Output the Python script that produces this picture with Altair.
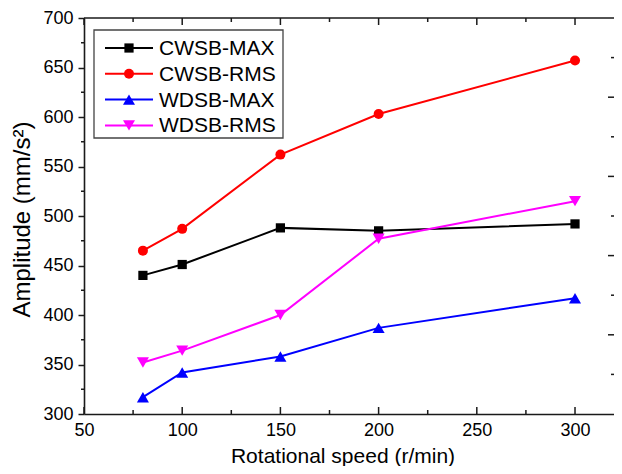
import altair as alt
import pandas as pd

# ---- data ----
speed = [80, 100, 150, 200, 300]
series_names = ["CWSB-MAX", "CWSB-RMS", "WDSB-MAX", "WDSB-RMS"]
cwsb_max = [440, 451, 488, 485, 492]
cwsb_rms = [465, 487, 562, 603, 657]
wdsb_max = [317, 342, 358, 387, 417]
wdsb_rms = [352, 364, 400, 477, 515]

x_major = [50, 100, 150, 200, 250, 300]
x_minor = [75, 125, 175, 225, 275]
y_major = [300, 350, 400, 450, 500, 550, 600, 650, 700]
y_minor = [325, 375, 425, 475, 525, 575, 625, 675]
right_major = [380, 460, 540, 620]
right_minor = [340, 420, 500, 580, 660]

colors = ["#000000", "#ff0000", "#0000ff", "#ff00ff"]
shapes = ["square", "circle", "triangle-up", "triangle-down"]
marker_sizes = [85, 100, 145, 145]

values = [cwsb_max, cwsb_rms, wdsb_max, wdsb_rms]
rows = []
for name, vals in zip(series_names, values):
    for s, v in zip(speed, vals):
        rows.append({"speed": s, "amp": v, "series": name})
df = pd.DataFrame(rows)

W, H = 530, 396
FONT = "Liberation Sans"
INK = "#1a1a1a"

xs = alt.Scale(domain=[50, 319.85], nice=False, zero=False)
ys = alt.Scale(domain=[300, 700], nice=False, zero=False)
cscale = alt.Scale(domain=series_names, range=colors)

x_axis = alt.Axis(
    values=x_major, ticks=False, grid=False, labelFlush=False,
    domainColor=INK, domainWidth=1.6,
    labelFont=FONT, labelFontSize=18, labelColor="black", labelPadding=7,
    title="Rotational speed (r/min)", titleFont=FONT, titleFontSize=21,
    titleFontWeight="normal", titleColor="black",
    titleX=258.5, titleY=48, titleAlign="center", titleBaseline="alphabetic",
)
y_axis = alt.Axis(
    values=y_major, grid=False, labelFlush=False,
    tickSize=6, tickWidth=1.5, tickColor=INK,
    domainColor=INK, domainWidth=1.6,
    labelFont=FONT, labelFontSize=18, labelColor="black", labelPadding=5,
    title="Amplitude (mm/s²)", titleFont=FONT, titleFontSize=24,
    titleFontWeight="normal", titleColor="black",
    titleX=-62, titleY=201, titleAlign="center", titleBaseline="middle",
)

def X(field):
    return alt.X(field, scale=xs, axis=x_axis)

def Y(field):
    return alt.Y(field, scale=ys, axis=y_axis)

base = alt.Chart(df)

lines = base.mark_line(strokeWidth=2).encode(
    x=X("speed:Q"), y=Y("amp:Q"),
    color=alt.Color("series:N", scale=cscale, legend=None),
)

point_layers = [
    base.transform_filter(alt.datum.series == name)
    .mark_point(filled=True, size=msz, opacity=1, shape=shp)
    .encode(
        x=X("speed:Q"), y=Y("amp:Q"),
        color=alt.Color("series:N", scale=cscale, legend=None),
    )
    for name, shp, msz in zip(series_names, shapes, marker_sizes)
]

def vtick(vals, y0, y1):
    return alt.Chart(pd.DataFrame({"v": vals})).mark_rule(color=INK, strokeWidth=1.5).encode(
        x=X("v:Q"), y=alt.value(y0), y2=alt.value(y1))

def htick(vals, x0, x1):
    return alt.Chart(pd.DataFrame({"v": vals})).mark_rule(color=INK, strokeWidth=1.5).encode(
        y=Y("v:Q"), x=alt.value(x0), x2=alt.value(x1))

ticks = [
    vtick(x_major, H, H - 7), vtick(x_minor, H, H - 4),
    vtick(x_major, 0, 7), vtick(x_minor, 0, 4),
    htick(y_minor, -3, 0),
    htick(right_major, W, W - 6), htick(right_minor, W, W - 3),
]
top_line = alt.Chart(pd.DataFrame({"v": [0]})).mark_rule(color=INK, strokeWidth=1.6).encode(
    x=alt.value(0), x2=alt.value(W), y=alt.value(0))

# ---- legend (box, line sample, marker, label for each series) ----
LX0, LX1, LY0, LY1 = 10, 199, 12, 120   # box, in plot pixels
ROW0, ROWSTEP = 30, 25.8
legend_layers = [
    alt.Chart(pd.DataFrame({"series": [series_names[0]]})).mark_rect(
        fill="white", stroke="#444444", strokeWidth=1.3
    ).encode(x=alt.value(LX0), x2=alt.value(LX1), y=alt.value(LY0), y2=alt.value(LY1))
]
for i, (name, col, shp, msz) in enumerate(zip(series_names, colors, shapes, marker_sizes)):
    one = alt.Chart(pd.DataFrame({"series": [name]}))
    ry = ROW0 + ROWSTEP * i
    legend_layers.append(
        one.mark_rule(color=col, strokeWidth=2).encode(
            x=alt.value(21), x2=alt.value(69), y=alt.value(ry))
    )
    legend_layers.append(
        one.mark_point(filled=True, size=msz, opacity=1, shape=shp, color=col).encode(
            x=alt.value(45), y=alt.value(ry))
    )
    legend_layers.append(
        one.mark_text(align="left", baseline="middle", font=FONT, fontSize=21, color="black").encode(
            x=alt.value(75), y=alt.value(ry + 1), text="series:N")
    )

chart = alt.layer(lines, *ticks, top_line, *point_layers, *legend_layers).properties(
    width=W, height=H,
    autosize=alt.AutoSizeParams(type="none"),
    padding={"left": 76, "top": 10, "right": 0, "bottom": 52},
).configure(font=FONT).configure_view(strokeWidth=0)

chart.save("out.html", embed_options={"renderer": "svg", "actions": False})
